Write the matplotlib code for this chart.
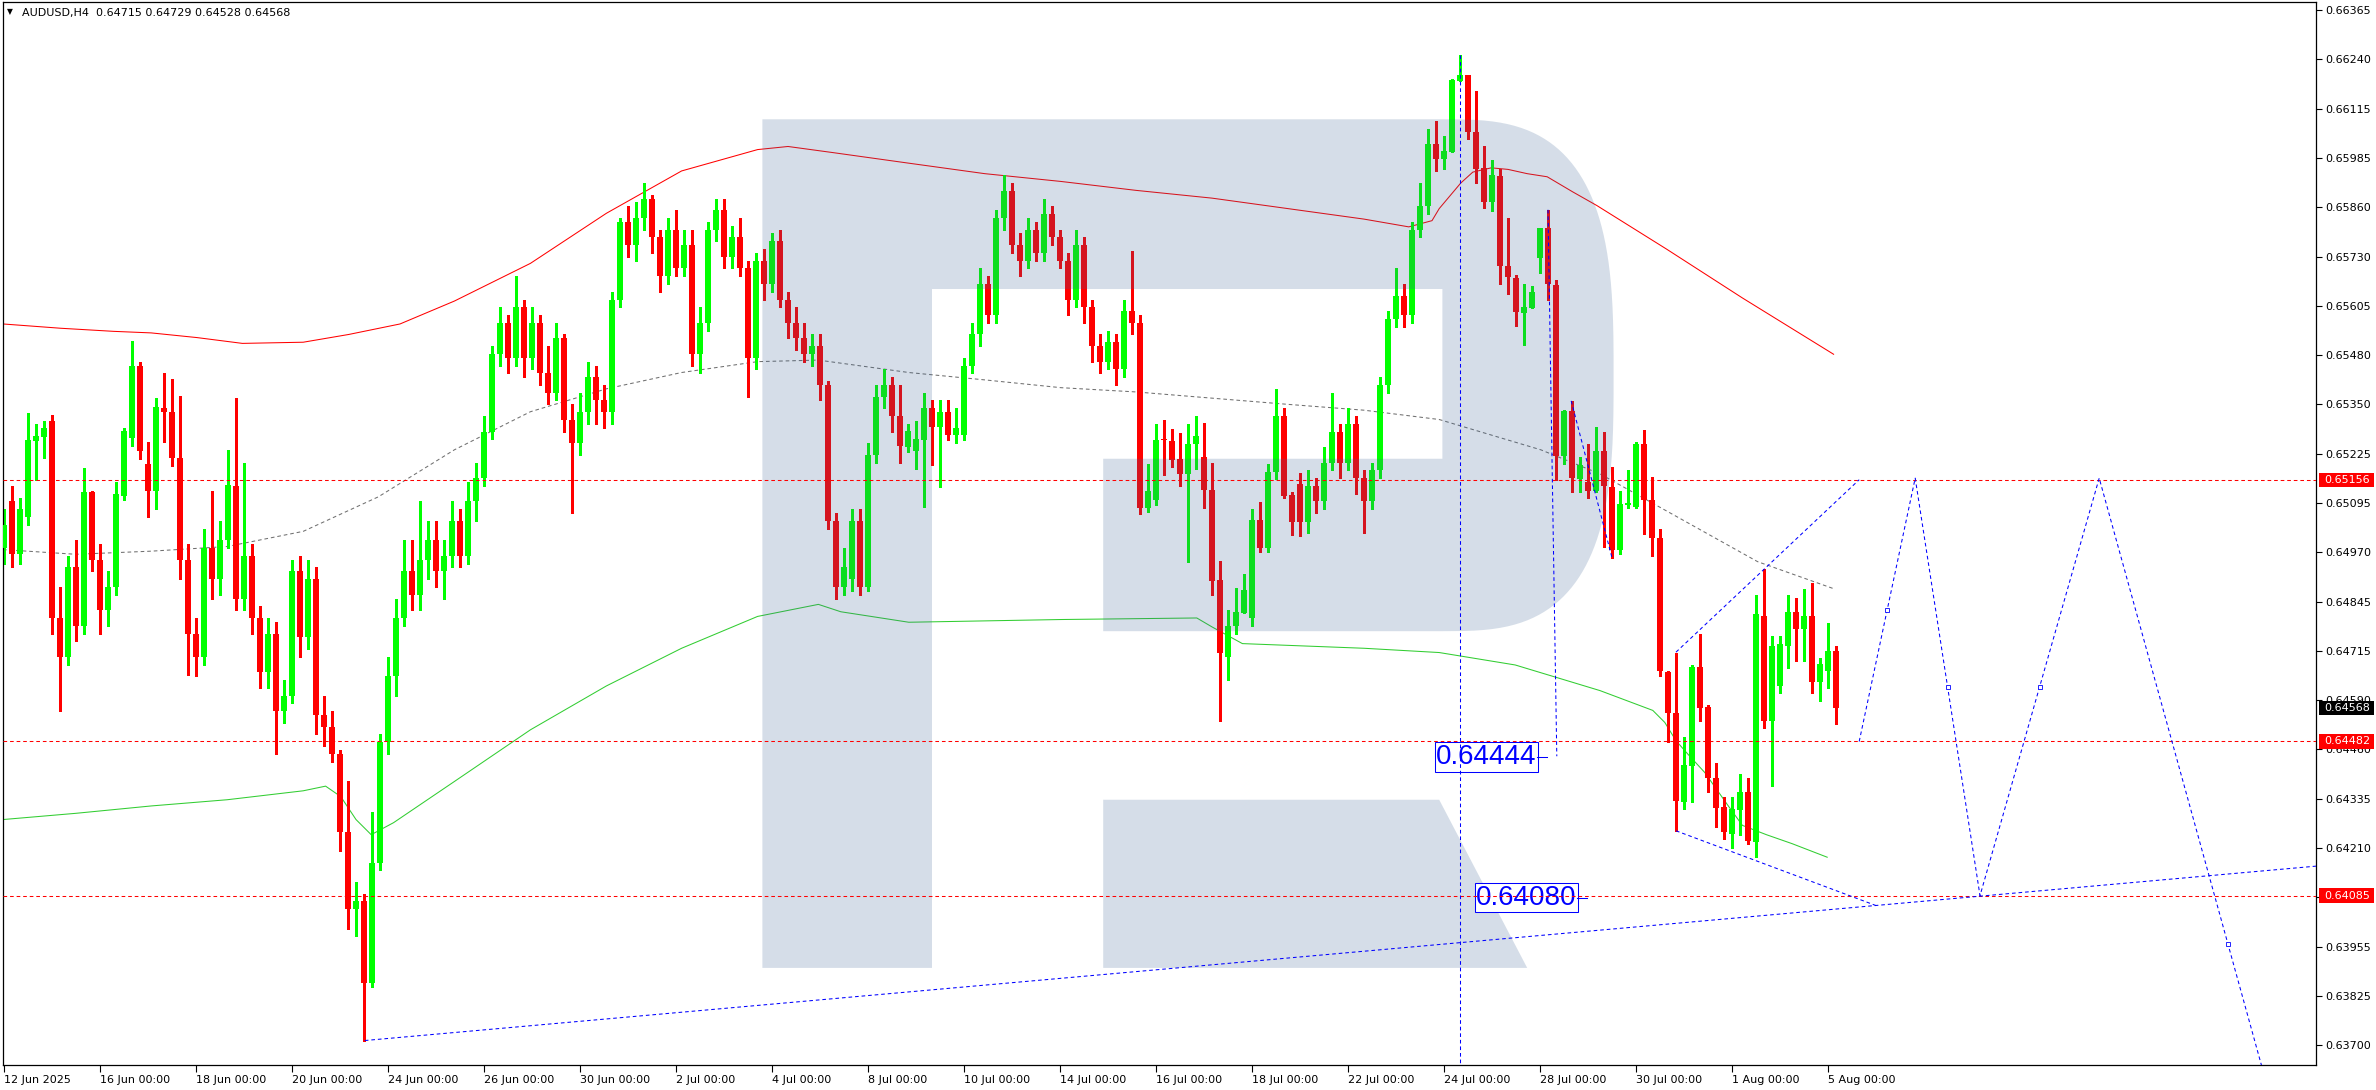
import numpy as np
import matplotlib
matplotlib.use('Agg')
import matplotlib.pyplot as plt
from matplotlib.patches import Polygon, Rectangle
from matplotlib.transforms import blended_transform_factory

# AUDUSD H4 bars, bar 0 = 12 Jun 2025 00:00
opens = [
    0.64980, 0.65100, 0.64965, 0.65060, 0.65256, 0.65267, 0.65307, 0.64800, 0.64700, 0.64930,
    0.64780, 0.65125, 0.64950, 0.64820, 0.64880, 0.65114, 0.65264, 0.65449, 0.65197, 0.65126,
    0.65341, 0.65331, 0.65212, 0.64950, 0.64760, 0.64700, 0.64980, 0.64900, 0.65000, 0.65140,
    0.64850, 0.64960, 0.64800, 0.64660, 0.64760, 0.64560, 0.64600, 0.64920, 0.64750, 0.64900,
    0.64550, 0.64520, 0.64450, 0.64250, 0.64050, 0.64070, 0.63860, 0.64170, 0.64480, 0.64650,
    0.64800, 0.64920, 0.64860, 0.64950, 0.65000, 0.64920, 0.64960, 0.65050, 0.64960, 0.65100,
    0.65160, 0.65280, 0.65480, 0.65560, 0.65470, 0.65600, 0.65470, 0.65560, 0.65430, 0.65380,
    0.65520, 0.65310, 0.65250, 0.65330, 0.65420, 0.65360, 0.65330, 0.65620, 0.65820, 0.65760,
    0.65830, 0.65880, 0.65780, 0.65680, 0.65800, 0.65700, 0.65760, 0.65480, 0.65560, 0.65800,
    0.65850, 0.65730, 0.65780, 0.65700, 0.65470, 0.65720, 0.65660, 0.65770, 0.65620, 0.65560,
    0.65520, 0.65480, 0.65500, 0.65400, 0.65050, 0.64880, 0.64900, 0.65050, 0.64880, 0.65220,
    0.65370, 0.65400, 0.65320, 0.65241, 0.65231, 0.65259, 0.65340, 0.65293, 0.65330, 0.65270,
    0.65271, 0.65450, 0.65530, 0.65660, 0.65580, 0.65830, 0.65900, 0.65760, 0.65720, 0.65800,
    0.65740, 0.65840, 0.65780, 0.65720, 0.65620, 0.65760, 0.65600, 0.65500, 0.65460, 0.65510,
    0.65440, 0.65590, 0.65560, 0.65084, 0.65104, 0.65261, 0.65256, 0.65210, 0.65171, 0.65248,
    0.65215, 0.65130, 0.64898, 0.64700, 0.64780, 0.64814, 0.64800, 0.65053, 0.64981, 0.65176,
    0.65320, 0.65117, 0.65145, 0.65046, 0.65140, 0.65100, 0.65200, 0.65280, 0.65200, 0.65300,
    0.65160, 0.65100, 0.65180, 0.65400, 0.65570, 0.65630, 0.65580, 0.65800, 0.65860, 0.66020,
    0.65982, 0.66001, 0.66183, 0.66198, 0.66052, 0.65959, 0.65871, 0.65939, 0.65707, 0.65676,
    0.65585, 0.65598, 0.65727, 0.65805, 0.65658, 0.65216, 0.65332, 0.65158, 0.65150, 0.65127,
    0.65229, 0.65137, 0.64975, 0.65091, 0.65086, 0.65249, 0.65105, 0.65007, 0.64661, 0.64555,
    0.64325, 0.64420, 0.64674, 0.64571, 0.64387, 0.64314, 0.64245, 0.64306, 0.64352, 0.64223,
    0.64804, 0.64534, 0.64626, 0.64728, 0.64815, 0.64772, 0.64804, 0.64636, 0.64663, 0.64715,
]
highs = [
    0.65080, 0.65140, 0.65110, 0.65329, 0.65300, 0.65307, 0.65323, 0.64880, 0.64960, 0.65000,
    0.65187, 0.65127, 0.64990, 0.64920, 0.65150, 0.65290, 0.65513, 0.65459, 0.65253, 0.65367,
    0.65430, 0.65416, 0.65372, 0.64990, 0.64800, 0.65030, 0.65127, 0.65050, 0.65233, 0.65367,
    0.65200, 0.64990, 0.64830, 0.64800, 0.64790, 0.64640, 0.64950, 0.64960, 0.64950, 0.64930,
    0.64600, 0.64560, 0.64460, 0.64380, 0.64120, 0.64090, 0.64300, 0.64500, 0.64700, 0.64850,
    0.65000, 0.65000, 0.65100, 0.65050, 0.65050, 0.65000, 0.65100, 0.65080, 0.65150, 0.65200,
    0.65320, 0.65500, 0.65600, 0.65580, 0.65680, 0.65620, 0.65600, 0.65580, 0.65500, 0.65560,
    0.65530, 0.65350, 0.65380, 0.65460, 0.65450, 0.65400, 0.65640, 0.65830, 0.65860, 0.65870,
    0.65920, 0.65890, 0.65800, 0.65830, 0.65850, 0.65800, 0.65800, 0.65600, 0.65820, 0.65880,
    0.65880, 0.65810, 0.65830, 0.65720, 0.65740, 0.65750, 0.65790, 0.65800, 0.65640, 0.65600,
    0.65560, 0.65530, 0.65530, 0.65410, 0.65070, 0.64980, 0.65080, 0.65080, 0.65250, 0.65400,
    0.65440, 0.65420, 0.65400, 0.65300, 0.65306, 0.65380, 0.65360, 0.65360, 0.65360, 0.65340,
    0.65470, 0.65560, 0.65700, 0.65680, 0.65850, 0.65940, 0.65920, 0.65790, 0.65830, 0.65820,
    0.65880, 0.65860, 0.65800, 0.65740, 0.65800, 0.65780, 0.65620, 0.65530, 0.65540, 0.65530,
    0.65620, 0.65745, 0.65580, 0.65197, 0.65300, 0.65310, 0.65287, 0.65277, 0.65300, 0.65320,
    0.65302, 0.65199, 0.64947, 0.64820, 0.64878, 0.64914, 0.65081, 0.65099, 0.65197, 0.65390,
    0.65340, 0.65125, 0.65174, 0.65180, 0.65160, 0.65240, 0.65380, 0.65300, 0.65340, 0.65320,
    0.65180, 0.65200, 0.65420, 0.65590, 0.65700, 0.65660, 0.65820, 0.65920, 0.66060, 0.66080,
    0.66041, 0.66189, 0.66250, 0.66198, 0.66156, 0.66015, 0.65979, 0.65957, 0.65831, 0.65683,
    0.65661, 0.65656, 0.65805, 0.65851, 0.65669, 0.65336, 0.65359, 0.65215, 0.65249, 0.65293,
    0.65279, 0.65189, 0.65128, 0.65180, 0.65253, 0.65283, 0.65164, 0.65028, 0.64663, 0.64710,
    0.64494, 0.64679, 0.64758, 0.64577, 0.64427, 0.64340, 0.64340, 0.64397, 0.64389, 0.64859,
    0.64925, 0.64753, 0.64753, 0.64859, 0.64852, 0.64874, 0.64890, 0.64697, 0.64787, 0.64729,
]
lows = [
    0.64940, 0.64930, 0.64940, 0.65040, 0.65155, 0.65212, 0.64760, 0.64560, 0.64680, 0.64740,
    0.64760, 0.64920, 0.64760, 0.64780, 0.64860, 0.65104, 0.65243, 0.65210, 0.65060, 0.65080,
    0.65253, 0.65192, 0.64900, 0.64652, 0.64650, 0.64680, 0.64850, 0.64860, 0.64980, 0.64820,
    0.64820, 0.64760, 0.64620, 0.64620, 0.64450, 0.64530, 0.64580, 0.64700, 0.64720, 0.64500,
    0.64470, 0.64430, 0.64200, 0.64000, 0.63980, 0.63712, 0.63850, 0.64150, 0.64450, 0.64600,
    0.64780, 0.64820, 0.64820, 0.64900, 0.64880, 0.64850, 0.64930, 0.64930, 0.64940, 0.65050,
    0.65140, 0.65260, 0.65450, 0.65430, 0.65450, 0.65420, 0.65440, 0.65400, 0.65350, 0.65360,
    0.65280, 0.65070, 0.65220, 0.65300, 0.65300, 0.65290, 0.65300, 0.65600, 0.65730, 0.65720,
    0.65800, 0.65740, 0.65640, 0.65660, 0.65680, 0.65680, 0.65450, 0.65430, 0.65540, 0.65770,
    0.65700, 0.65700, 0.65680, 0.65370, 0.65440, 0.65620, 0.65640, 0.65600, 0.65520, 0.65490,
    0.65460, 0.65450, 0.65360, 0.65030, 0.64850, 0.64860, 0.64870, 0.64860, 0.64870, 0.65200,
    0.65340, 0.65280, 0.65200, 0.65228, 0.65184, 0.65087, 0.65194, 0.65136, 0.65257, 0.65250,
    0.65257, 0.65430, 0.65500, 0.65560, 0.65560, 0.65800, 0.65740, 0.65680, 0.65700, 0.65720,
    0.65720, 0.65760, 0.65700, 0.65580, 0.65600, 0.65560, 0.65460, 0.65430, 0.65440, 0.65400,
    0.65420, 0.65530, 0.65068, 0.65074, 0.65090, 0.65167, 0.65190, 0.65141, 0.64945, 0.65184,
    0.65082, 0.64860, 0.64535, 0.64640, 0.64760, 0.64812, 0.64780, 0.64969, 0.64969, 0.65159,
    0.65108, 0.65014, 0.65010, 0.65020, 0.65070, 0.65080, 0.65180, 0.65160, 0.65180, 0.65120,
    0.65020, 0.65080, 0.65160, 0.65380, 0.65550, 0.65550, 0.65560, 0.65780, 0.65840, 0.65950,
    0.65957, 0.66001, 0.66183, 0.66034, 0.65919, 0.65855, 0.65849, 0.65659, 0.65633, 0.65553,
    0.65503, 0.65598, 0.65687, 0.65618, 0.65156, 0.65196, 0.65125, 0.65125, 0.65110, 0.65125,
    0.64982, 0.64955, 0.64964, 0.65083, 0.65083, 0.65017, 0.64960, 0.64650, 0.64480, 0.64252,
    0.64308, 0.64325, 0.64534, 0.64352, 0.64261, 0.64232, 0.64207, 0.64242, 0.64218, 0.64184,
    0.64516, 0.64367, 0.64606, 0.64672, 0.64689, 0.64689, 0.64606, 0.64585, 0.64619, 0.64528,
]
closes = [
    0.65040, 0.64965, 0.65080, 0.65258, 0.65269, 0.65289, 0.64800, 0.64700, 0.64930, 0.64780,
    0.65125, 0.64950, 0.64820, 0.64880, 0.65119, 0.65282, 0.65449, 0.65231, 0.65126, 0.65343,
    0.65331, 0.65212, 0.64950, 0.64760, 0.64700, 0.64980, 0.64900, 0.65000, 0.65143, 0.64850,
    0.64960, 0.64800, 0.64660, 0.64760, 0.64560, 0.64600, 0.64920, 0.64750, 0.64900, 0.64550,
    0.64520, 0.64450, 0.64250, 0.64050, 0.64070, 0.63860, 0.64170, 0.64480, 0.64650, 0.64800,
    0.64920, 0.64860, 0.64950, 0.65000, 0.64920, 0.64960, 0.65050, 0.64960, 0.65100, 0.65160,
    0.65280, 0.65480, 0.65560, 0.65470, 0.65600, 0.65470, 0.65560, 0.65430, 0.65380, 0.65520,
    0.65310, 0.65250, 0.65330, 0.65420, 0.65360, 0.65330, 0.65620, 0.65820, 0.65760, 0.65830,
    0.65880, 0.65780, 0.65680, 0.65800, 0.65700, 0.65760, 0.65480, 0.65560, 0.65800, 0.65850,
    0.65730, 0.65780, 0.65700, 0.65470, 0.65720, 0.65660, 0.65770, 0.65620, 0.65560, 0.65520,
    0.65480, 0.65500, 0.65400, 0.65050, 0.64880, 0.64930, 0.65050, 0.64880, 0.65220, 0.65370,
    0.65400, 0.65320, 0.65244, 0.65282, 0.65261, 0.65340, 0.65293, 0.65330, 0.65270, 0.65290,
    0.65450, 0.65530, 0.65660, 0.65580, 0.65830, 0.65900, 0.65760, 0.65720, 0.65800, 0.65740,
    0.65840, 0.65780, 0.65720, 0.65620, 0.65760, 0.65600, 0.65500, 0.65460, 0.65510, 0.65440,
    0.65590, 0.65560, 0.65084, 0.65126, 0.65257, 0.65257, 0.65207, 0.65171, 0.65248, 0.65269,
    0.65130, 0.64896, 0.64711, 0.64780, 0.64816, 0.64872, 0.65053, 0.64981, 0.65176, 0.65320,
    0.65115, 0.65048, 0.65046, 0.65140, 0.65100, 0.65200, 0.65280, 0.65200, 0.65300, 0.65160,
    0.65100, 0.65180, 0.65400, 0.65570, 0.65630, 0.65580, 0.65800, 0.65860, 0.66020, 0.65982,
    0.66003, 0.66186, 0.66198, 0.66050, 0.65957, 0.65870, 0.65941, 0.65707, 0.65677, 0.65587,
    0.65600, 0.65640, 0.65805, 0.65660, 0.65216, 0.65333, 0.65160, 0.65193, 0.65127, 0.65229,
    0.65139, 0.64975, 0.65094, 0.65097, 0.65249, 0.65104, 0.65006, 0.64663, 0.64555, 0.64330,
    0.64421, 0.64675, 0.64569, 0.64387, 0.64312, 0.64248, 0.64308, 0.64352, 0.64225, 0.64810,
    0.64534, 0.64727, 0.64733, 0.64815, 0.64772, 0.64804, 0.64636, 0.64681, 0.64716, 0.64568,
]

# moving averages (bar index, price)
ma_red_x = [-0.12, 7.07, 13.7, 18.4, 24.1, 29.8, 37.4, 43.1, 49.5, 56.3, 65.8, 75.3, 84.7,
            94.2, 98.0, 103.7, 113.1, 122.6, 132.1, 141.5, 151.0, 160.5, 170.0, 175.6,
            178.5, 179.4, 182.1, 183.6, 185.9, 188.0, 190.4, 192.9, 196.1, 199.1, 207.8,
            217.3, 228.7]
ma_red_y = [0.65557, 0.65546, 0.65538, 0.65534, 0.65522, 0.65507, 0.65510, 0.65530, 0.65557,
            0.65616, 0.65713, 0.65842, 0.65951, 0.66006, 0.66014, 0.65998, 0.65971, 0.65944,
            0.65924, 0.65901, 0.65881, 0.65854, 0.65827, 0.65807, 0.65823, 0.65854, 0.65920,
            0.65948, 0.65959, 0.65955, 0.65944, 0.65936, 0.65897, 0.65862, 0.65750, 0.65624,
            0.65479]
ma_green_x = [-0.12, 8.97, 18.4, 27.9, 37.4, 40.2, 42.1, 44.0, 45.9, 48.7, 56.3, 65.8, 75.3,
              84.7, 94.2, 101.8, 104.6, 113.1, 132.1, 149.1, 151.0, 154.8, 170.0, 179.4,
              188.9, 199.5, 206.1, 207.6, 209.0, 210.5, 212.6, 215.4, 217.3, 220.3, 223.5,
              227.9]
ma_green_y = [0.64281, 0.64297, 0.64316, 0.64332, 0.64355, 0.64367, 0.64340, 0.64281, 0.64242,
              0.64273, 0.64379, 0.64512, 0.64625, 0.64722, 0.64804, 0.64835, 0.64816, 0.64789,
              0.64796, 0.64800, 0.64777, 0.64734, 0.64722, 0.64711, 0.64679, 0.64613, 0.64562,
              0.64531, 0.64484, 0.64449, 0.64402, 0.64320, 0.64266, 0.64242, 0.64219, 0.64184]
ma_gray_x = [-0.12, 8.97, 18.4, 27.9, 37.4, 46.8, 56.3, 65.8, 75.3, 84.7, 94.2, 101.8, 113.1,
             122.6, 132.1, 141.5, 151.0, 160.5, 170.0, 179.4, 192.1, 199.5, 205.6, 219.2, 228.9]
ma_gray_y = [0.64976, 0.64964, 0.64972, 0.64984, 0.65023, 0.65112, 0.65233, 0.65331, 0.65390,
             0.65432, 0.65460, 0.65464, 0.65432, 0.65413, 0.65393, 0.65382, 0.65366, 0.65350,
             0.65335, 0.65311, 0.65233, 0.65171, 0.65101, 0.64945, 0.64874]

# analyst drawings
levels = [0.65156, 0.64482, 0.64085]
last_price = 0.64568
trend_x, trend_y = [45.1, 289.0], [0.63712, 0.64161]
chan_up_x, chan_up_y = [209.0, 231.9], [0.64712, 0.65156]
chan_dn_x, chan_dn_y = [209.0, 234.2], [0.64252, 0.64058]
zig_x = [231.9, 238.9, 247.0, 261.9, 294.1]
zig_y = [0.64482, 0.65160, 0.64085, 0.65160, 0.62760]
vert1_x, vert1_y = [182.0, 182.0], [0.66250, 0.63500]
vert2_x, vert2_y = [193.0, 194.1], [0.65851, 0.64444]
wave_x, wave_y = [195.9, 201.0], [0.65359, 0.64955]
target_labels = ['0.64444', '0.64080']
target_x = [191.6, 196.6]
target_y = [0.64442, 0.64080]

date_ticks = list(range(0, 229, 12))
date_labels = ['12 Jun 2025', '16 Jun 00:00', '18 Jun 00:00', '20 Jun 00:00', '24 Jun 00:00',
               '26 Jun 00:00', '30 Jun 00:00', '2 Jul 00:00', '4 Jul 00:00', '8 Jul 00:00',
               '10 Jul 00:00', '14 Jul 00:00', '16 Jul 00:00', '18 Jul 00:00', '22 Jul 00:00',
               '24 Jul 00:00', '28 Jul 00:00', '30 Jul 00:00', '1 Aug 00:00', '5 Aug 00:00']
price_labels = ['0.66365', '0.66240', '0.66115', '0.65985', '0.65860', '0.65730', '0.65605',
                '0.65480', '0.65350', '0.65225', '0.65095', '0.64970', '0.64845', '0.64715',
                '0.64590', '0.64460', '0.64335', '0.64210', '0.64080', '0.63955', '0.63825',
                '0.63700']

W, H = 2376, 1090
DOT = (0, (3.5, 2.8))


def main():
    fig = plt.figure(figsize=(W / 100, H / 100), dpi=100, facecolor='white')
    ax = fig.add_axes([3 / W, 25 / H, 2313 / W, 1063 / H])
    ax.set_xlim(-0.125, 289.0)
    ax.set_ylim(0.63649, 0.66386)

    # moving averages
    ax.plot(ma_red_x, ma_red_y, color='#FF0000', lw=0.75, zorder=1)
    ax.plot(ma_green_x, ma_green_y, color='#32CD32', lw=0.75, zorder=1)
    ax.plot(ma_gray_x, ma_gray_y, color='#707070', lw=0.75, ls=DOT, zorder=1)

    # candles
    o = np.array(opens)
    h = np.array(highs)
    l = np.array(lows)
    c = np.array(closes)
    x = np.arange(len(o))
    col = np.where(c >= o, '#00FF00', '#FF0000')
    ax.vlines(x, l, h, colors=col, lw=0.75, zorder=2, antialiased=False)
    ax.bar(x, np.maximum(np.abs(c - o), 2.6e-5), bottom=np.minimum(o, c), width=0.7,
           color=col, lw=0, zorder=3, antialiased=False)

    # watermark logo
    cx, cy, a, b = 179.8, 0.65425, 21.4, 0.00659
    t = np.linspace(-np.pi / 2, np.pi / 2, 80)
    bx = cx + a * np.abs(np.cos(t)) ** (2 / 3)
    by = cy + b * np.sign(np.sin(t)) * np.abs(np.sin(t)) ** (2 / 3)
    bowl = list(zip(bx[::-1], by[::-1]))
    outline = [(94.8, 0.63899), (94.8, 0.66084)] + bowl + [
        (137.4, 0.64766), (137.4, 0.65210), (179.8, 0.65210), (179.8, 0.65647),
        (116.0, 0.65647), (116.0, 0.63899)]
    wm = dict(facecolor=(59 / 255, 98 / 255, 147 / 255), edgecolor='none', alpha=0.21, zorder=4)
    ax.add_patch(Polygon(outline, closed=True, **wm))
    ax.add_patch(Polygon([(137.4, 0.64332), (179.4, 0.64332), (190.4, 0.63899),
                          (137.4, 0.63899)], closed=True, **wm))

    # target labels
    for lab, tx, ty in zip(target_labels, target_x, target_y):
        ax.text(tx, ty, lab, ha='right', va='center', fontsize=20, color='#0000FF',
                family='Liberation Sans', zorder=5,
                bbox=dict(boxstyle='square,pad=0.06', fc='white', ec='#0000FF', lw=0.75))
        ax.plot([tx, tx + 1.3], [ty, ty], color='#0000FF', lw=0.75, zorder=5)

    # horizontal levels
    for lv in levels:
        ax.axhline(lv, color='#FF0000', lw=0.75, ls=DOT, zorder=6)

    # blue dotted drawings
    blue = dict(color='#0000FF', lw=0.75, ls=DOT, zorder=6)
    ax.plot(trend_x, trend_y, **blue)
    ax.plot(chan_up_x, chan_up_y, **blue)
    ax.plot(chan_dn_x, chan_dn_y, **blue)
    ax.plot(zig_x, zig_y, **blue)
    ax.plot(vert1_x, vert1_y, **blue)
    ax.plot(vert2_x, vert2_y, **blue)
    ax.plot(wave_x, wave_y, **blue)
    zx = np.array(zig_x)
    zy = np.array(zig_y)
    ax.plot((zx[:-1] + zx[1:]) / 2, (zy[:-1] + zy[1:]) / 2, 's', ms=2.5, mfc='white',
            mec='#0000FF', mew=0.6, zorder=6)

    # axes styling
    for s in ax.spines.values():
        s.set_color('black')
        s.set_linewidth(0.9)
    ax.yaxis.tick_right()
    ax.set_yticks(np.linspace(0.66365, 0.63700, len(price_labels)))
    ax.set_yticklabels(price_labels)
    ax.set_xticks(date_ticks)
    ax.set_xticklabels(date_labels)
    plt.setp(ax.get_xticklabels(), ha='left')
    ax.tick_params(axis='y', direction='out', length=4, width=0.8, pad=3, labelsize=8)
    ax.tick_params(axis='x', direction='out', length=5, width=0.8, pad=2, labelsize=8)

    # price boxes on the right scale
    tr = blended_transform_factory(fig.transFigure, ax.transData)
    boxes = [(levels[0], '#FF0000'), (last_price, '#000000'),
             (levels[1], '#FF0000'), (levels[2], '#FF0000')]
    for val, fc in boxes:
        ax.add_patch(Rectangle((2319 / W, val - 1.85e-4), 55 / W, 3.7e-4, transform=tr,
                               facecolor=fc, edgecolor='none', clip_on=False, zorder=7))
        ax.text(2324 / W, val, '%.5f' % val, transform=tr, ha='left', va='center',
                color='white', fontsize=8, clip_on=False, zorder=8)

    fig.text(10 / W, 1 - 12 / H, '\u25bc', fontsize=5.5, ha='center', va='center')
    fig.text(22 / W, 1 - 13 / H, 'AUDUSD,H4  0.64715 0.64729 0.64528 0.64568',
             fontsize=8, ha='left', va='center')

    fig.savefig('out.png', dpi=100, facecolor='white')


if __name__ == '__main__':
    main()
